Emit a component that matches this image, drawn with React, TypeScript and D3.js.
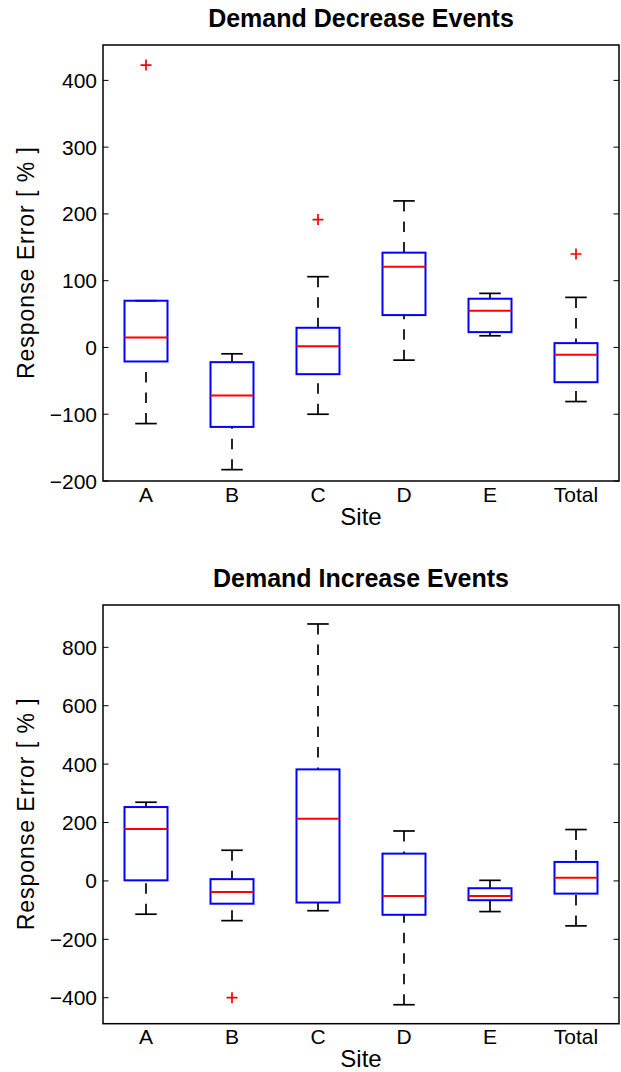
import React from "react";
import * as d3 from "d3";

const sites = ["A", "B", "C", "D", "E", "Total"];

// Demand Decrease Events
const decLow = [-114, -183, -100, -19, 17.5, -81];
const decQ1 = [-21, -119, -40, 48.5, 23, -52];
const decMed = [15, -72, 2, 121, 55, -11];
const decQ3 = [70, -22, 29.5, 142, 73, 6.5];
const decHigh = [70, -9.5, 106, 219.5, 81, 75];
const decOutliers = [[423], [], [191.5], [], [], [140]];
const decTicks = [-200, -100, 0, 100, 200, 300, 400];
const decDomain = [-200, 453];

// Demand Increase Events
const incLow = [-114, -136, -102, -424, -105, -154];
const incQ1 = [2, -78, -74, -116, -66, -43.5];
const incMed = [178, -38, 213, -52, -52, 11];
const incQ3 = [253, 6, 382, 93.5, -25, 65];
const incHigh = [269.5, 105, 880, 171, 2, 176];
const incOutliers = [[], [-400], [], [], [], []];
const incTicks = [-400, -200, 0, 200, 400, 600, 800];
const incDomain = [-489, 945];

const FONT = "'Liberation Sans', Arial, Helvetica, sans-serif";

type PanelProps = {
  title: string;
  top: number;
  bottom: number;
  low: number[];
  q1: number[];
  med: number[];
  q3: number[];
  high: number[];
  outliers: number[][];
  ticks: number[];
  domain: number[];
};

const LEFT = 103;
const RIGHT = 619;

function Panel(p: PanelProps) {
  const x = d3
    .scaleLinear()
    .domain([0.5, sites.length + 0.5])
    .range([LEFT, RIGHT]);
  const y = d3.scaleLinear().domain(p.domain).range([p.bottom, p.top]);
  const unit = x(1) - x(0);
  const boxW = unit * 0.5;
  const capW = unit * 0.25;
  const midY = (p.top + p.bottom) / 2;
  const fmt = (v: number) => (v < 0 ? "\u2212" + Math.abs(v) : String(v));
  return (
    <g>
      <text
        x={(LEFT + RIGHT) / 2}
        y={p.top - 18}
        textAnchor="middle"
        fontFamily={FONT}
        fontWeight="bold"
        fontSize={25}
      >
        {p.title}
      </text>
      {p.ticks.map((t) => (
        <g key={t}>
          <line x1={LEFT} x2={LEFT + 5.5} y1={y(t)} y2={y(t)} stroke="#000" strokeWidth={1} />
          <line x1={RIGHT - 5.5} x2={RIGHT} y1={y(t)} y2={y(t)} stroke="#000" strokeWidth={1} />
          <text
            x={LEFT - 6}
            y={y(t)}
            dy="0.36em"
            textAnchor="end"
            fontFamily={FONT}
            fontSize={21}
          >
            {fmt(t)}
          </text>
        </g>
      ))}
      {sites.map((s, i) => {
        const cx = x(i + 1);
        return (
          <g key={s}>
            <line
              x1={cx}
              x2={cx}
              y1={y(p.high[i])}
              y2={y(p.q3[i])}
              stroke="#000"
              strokeWidth={1.7}
              strokeDasharray="10.5 10"
            />
            <line
              x1={cx}
              x2={cx}
              y1={y(p.low[i])}
              y2={y(p.q1[i])}
              stroke="#000"
              strokeWidth={1.7}
              strokeDasharray="10.5 10"
            />
            <line x1={cx - capW / 2} x2={cx + capW / 2} y1={y(p.high[i])} y2={y(p.high[i])} stroke="#000" strokeWidth={1.7} />
            <line x1={cx - capW / 2} x2={cx + capW / 2} y1={y(p.low[i])} y2={y(p.low[i])} stroke="#000" strokeWidth={1.7} />
            <rect
              x={cx - boxW / 2}
              y={y(p.q3[i])}
              width={boxW}
              height={y(p.q1[i]) - y(p.q3[i])}
              fill="none"
              stroke="#0000ff"
              strokeWidth={2}
            />
            <line x1={cx - boxW / 2} x2={cx + boxW / 2} y1={y(p.med[i])} y2={y(p.med[i])} stroke="#ff0000" strokeWidth={2} />
            {p.outliers[i].map((o, k) => (
              <path
                key={k}
                d={`M${cx - 5.5},${y(o)}H${cx + 5.5}M${cx},${y(o) - 5.5}V${y(o) + 5.5}`}
                stroke="#ff0000"
                strokeWidth={1.7}
                fill="none"
              />
            ))}
            <text
              x={cx}
              y={p.bottom + 20.7}
              textAnchor="middle"
              fontFamily={FONT}
              fontSize={21}
            >
              {s}
            </text>
          </g>
        );
      })}
      <rect
        x={LEFT}
        y={p.top}
        width={RIGHT - LEFT}
        height={p.bottom - p.top}
        fill="none"
        stroke="#000"
        strokeWidth={1.5}
      />
      <text
        x={(LEFT + RIGHT) / 2}
        y={p.bottom + 43.5}
        textAnchor="middle"
        fontFamily={FONT}
        fontSize={24}
      >
        Site
      </text>
      <text
        transform={`translate(33.5,${midY}) rotate(-90)`}
        textAnchor="middle"
        fontFamily={FONT}
        fontSize={23}
        textLength={232}
      >
        Response Error [ % ]
      </text>
    </g>
  );
}

export default function App() {
  return (
    <svg
      width={621}
      height={1072}
      style={{ position: "absolute", left: 0, top: 0, background: "#fff" }}
    >
      <rect width={621} height={1072} fill="#fff" />
      <Panel
        title="Demand Decrease Events"
        top={45}
        bottom={481}
        low={decLow}
        q1={decQ1}
        med={decMed}
        q3={decQ3}
        high={decHigh}
        outliers={decOutliers}
        ticks={decTicks}
        domain={decDomain}
      />
      <Panel
        title="Demand Increase Events"
        top={605}
        bottom={1023.7}
        low={incLow}
        q1={incQ1}
        med={incMed}
        q3={incQ3}
        high={incHigh}
        outliers={incOutliers}
        ticks={incTicks}
        domain={incDomain}
      />
    </svg>
  );
}
